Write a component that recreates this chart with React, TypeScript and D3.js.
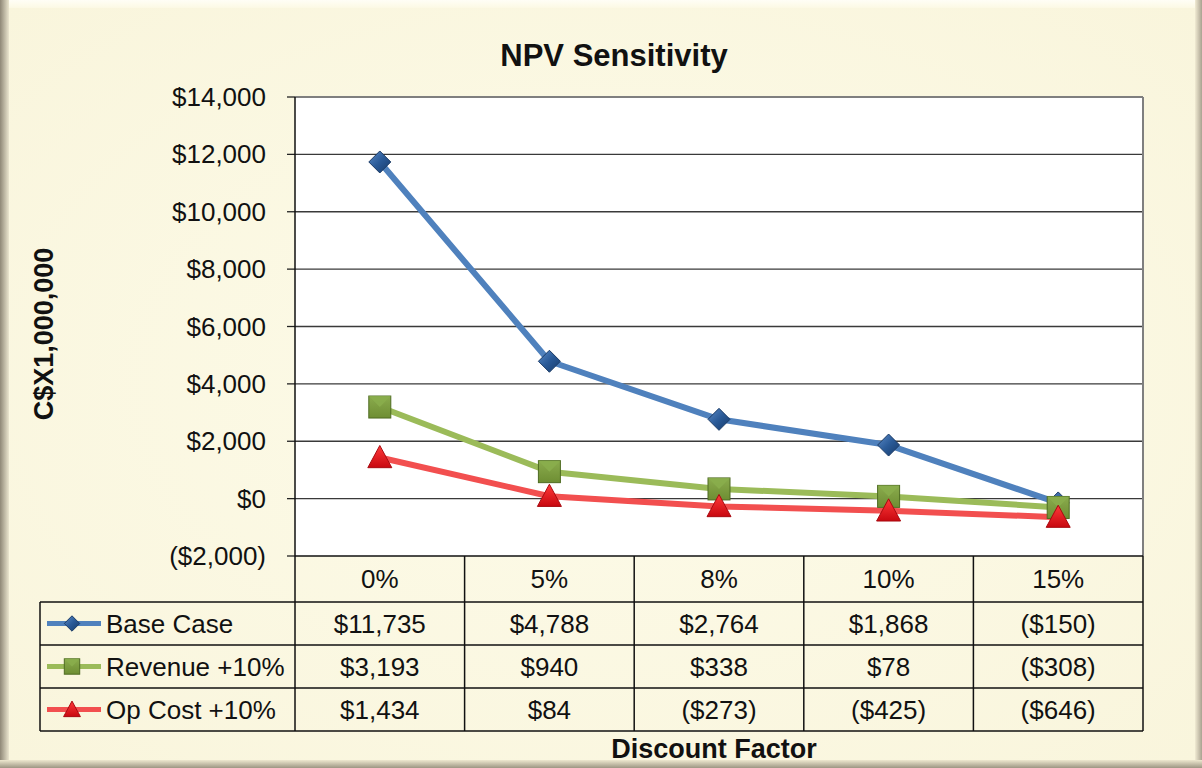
import React from "react";
import * as d3 from "d3";

const categories = ["0%", "5%", "8%", "10%", "15%"];
const seriesNames = ["Base Case", "Revenue +10%", "Op Cost +10%"];
const baseCase = [11735, 4788, 2764, 1868, -150];
const revenue10 = [3193, 940, 338, 78, -308];
const opCost10 = [1434, 84, -273, -425, -646];
const yTicks = [-2000, 0, 2000, 4000, 6000, 8000, 10000, 12000, 14000];

const W = 1202, H = 768;
const plotL = 295, plotR = 1143, plotT = 97, plotB = 556;
const rowTops = [556, 602, 645, 688, 731];
const tableL = 40;
const font = "'Liberation Sans', Arial, sans-serif";

const fmt = (v: number) => {
  const s = "$" + d3.format(",")(Math.abs(v));
  return v < 0 ? `(${s})` : s;
};

const colors = ["#4F81BD", "#9BBB59", "#F24F4F"];
const markerStroke = ["#1B3B66", "#4E6B22", "#A80A10"];

function Marker({ kind, x, y, s = 1 }: { kind: number; x: number; y: number; s?: number }) {
  if (kind === 0) {
    const r = 11 * s;
    return (
      <path d={`M${x},${y - r}L${x + r},${y}L${x},${y + r}L${x - r},${y}Z`} fill="url(#gDia)" stroke={markerStroke[0]} strokeWidth={1} />
    );
  }
  if (kind === 1) {
    const h = 11 * s;
    return (
      <g>
        <rect x={x - h} y={y - h} width={2 * h} height={2 * h} fill="url(#gSq)" stroke={markerStroke[1]} strokeWidth={1} />
        <path d={`M${x - h},${y - h}L${x},${y}L${x + h},${y - h}Z`} fill="#8AAE4C" opacity={0.85} />
      </g>
    );
  }
  const h = 12 * s;
  return (
    <path d={`M${x},${y - h}L${x + h},${y + h * 0.85}L${x - h},${y + h * 0.85}Z`} fill="url(#gTri)" stroke={markerStroke[2]} strokeWidth={1} />
  );
}

export default function App() {
  const x = d3.scaleBand<string>().domain(categories).range([plotL, plotR]);
  const y = d3.scaleLinear().domain([-2000, 14000]).range([plotB, plotT]);
  const series = [baseCase, revenue10, opCost10];
  const cx = (i: number) => (x(categories[i]) as number) + x.bandwidth() / 2;
  const line = d3
    .line<number>()
    .x((_, i) => cx(i))
    .y((d) => y(d));

  return (
    <svg width={W} height={H} style={{ position: "absolute", left: 0, top: 0 }} fontFamily={font}>
      <defs>
        <linearGradient id="bgL" x1="0" x2="1" y1="0" y2="0">
          <stop offset="0" stopColor="#8f8877" />
          <stop offset="1" stopColor="#ebe6cf" />
        </linearGradient>
        <linearGradient id="bgR" x1="0" x2="1" y1="0" y2="0">
          <stop offset="0" stopColor="#f1ebd3" />
          <stop offset="1" stopColor="#a9a290" />
        </linearGradient>
        <linearGradient id="bgB" x1="0" x2="0" y1="0" y2="1">
          <stop offset="0" stopColor="#eee8cf" />
          <stop offset="1" stopColor="#9d9683" />
        </linearGradient>
        <linearGradient id="bgT" x1="0" x2="0" y1="0" y2="1">
          <stop offset="0" stopColor="#fffef6" />
          <stop offset="1" stopColor="#fcf9e4" />
        </linearGradient>
        <radialGradient id="paper" cx="0.5" cy="0.5" r="0.7">
          <stop offset="0" stopColor="#fdfbe9" />
          <stop offset="1" stopColor="#f9f5dc" />
        </radialGradient>
        <linearGradient id="gDia" x1="0" x2="1" y1="0" y2="1">
          <stop offset="0" stopColor="#5a8ac7" />
          <stop offset="0.5" stopColor="#2A5A97" />
          <stop offset="1" stopColor="#163a6a" />
        </linearGradient>
        <linearGradient id="gSq" x1="0" x2="0" y1="0" y2="1">
          <stop offset="0" stopColor="#8aab4d" />
          <stop offset="1" stopColor="#6E8E33" />
        </linearGradient>
        <linearGradient id="gTri" x1="0" x2="0" y1="0" y2="1">
          <stop offset="0" stopColor="#ff3a3a" />
          <stop offset="1" stopColor="#c80810" />
        </linearGradient>
      </defs>

      {/* background */}
      <rect x={0} y={0} width={W} height={H} fill="url(#paper)" />
      <rect x={0} y={0} width={W} height={8} fill="url(#bgT)" />
      <rect x={0} y={0} width={9} height={H} fill="url(#bgL)" />
      <rect x={W - 7} y={0} width={7} height={H} fill="url(#bgR)" />
      <rect x={0} y={H - 8} width={W} height={8} fill="url(#bgB)" />

      {/* title */}
      <text x={614} y={66} textAnchor="middle" fontSize={31} fontWeight="bold" fill="#111">
        NPV Sensitivity
      </text>

      {/* plot area */}
      <rect x={plotL} y={plotT} width={plotR - plotL} height={plotB - plotT} fill="#fff" />
      {yTicks.map((t) => (
        <g key={t}>
          {t > -2000 && t < 14000 && (
            <line x1={plotL} x2={plotR} y1={y(t)} y2={y(t)} stroke="#3a3a3a" strokeWidth={1.3} />
          )}
          <line x1={plotL - 8} x2={plotL} y1={y(t)} y2={y(t)} stroke="#222" strokeWidth={1.3} />
          <text x={266} y={y(t) + 9} textAnchor="end" fontSize={26} fill="#111">
            {fmt(t)}
          </text>
        </g>
      ))}
      <line x1={plotL} x2={plotR} y1={plotT} y2={plotT} stroke="#7f7f7f" strokeWidth={2} />
      <line x1={plotR} x2={plotR} y1={plotT} y2={plotB} stroke="#7f7f7f" strokeWidth={2} />

      {/* series lines */}
      {series.map((s, k) => (
        <path key={k} d={line(s) as string} fill="none" stroke={colors[k]} strokeWidth={6} strokeLinejoin="round" />
      ))}
      {series.map((s, k) =>
        s.map((v, i) => <Marker key={`${k}-${i}`} kind={k} x={cx(i)} y={y(v)} />)
      )}

      {/* y-axis title */}
      <text transform={`translate(53,334) rotate(-90)`} textAnchor="middle" fontSize={27} fontWeight="bold" fill="#111">
        C$X1,000,000
      </text>

      {/* data table */}
      <line x1={plotL} x2={plotR} y1={plotB} y2={plotB} stroke="#111" strokeWidth={1.5} />
      <line x1={plotL} x2={plotL} y1={plotT} y2={rowTops[4]} stroke="#111" strokeWidth={1.5} />
      {categories.map((c, i) => {
        const x0 = x(c) as number;
        return (
          <g key={c}>
            <line x1={x0 + x.bandwidth()} x2={x0 + x.bandwidth()} y1={plotB} y2={rowTops[4]} stroke="#111" strokeWidth={1.5} />
            <text x={cx(i)} y={(rowTops[0] + rowTops[1]) / 2 + 9} textAnchor="middle" fontSize={26} fill="#111">
              {c}
            </text>
          </g>
        );
      })}
      {[1, 2, 3, 4].map((r) => (
        <line key={r} x1={tableL} x2={plotR} y1={rowTops[r]} y2={rowTops[r]} stroke="#111" strokeWidth={1.5} />
      ))}
      <line x1={tableL} x2={tableL} y1={rowTops[1]} y2={rowTops[4]} stroke="#111" strokeWidth={1.5} />
      {seriesNames.map((name, k) => {
        const cy = (rowTops[k + 1] + rowTops[k + 2]) / 2;
        return (
          <g key={name}>
            <line x1={47} x2={101} y1={cy} y2={cy} stroke={colors[k]} strokeWidth={5} />
            <Marker kind={k} x={72} y={cy} s={0.7} />
            <text x={106} y={cy + 9} fontSize={26} fill="#111">
              {name}
            </text>
            {series[k].map((v, i) => (
              <text key={i} x={cx(i)} y={cy + 9} textAnchor="middle" fontSize={26} fill="#111">
                {fmt(v)}
              </text>
            ))}
          </g>
        );
      })}

      {/* x-axis title */}
      <text x={714} y={758} textAnchor="middle" fontSize={27} fontWeight="bold" fill="#111">
        Discount Factor
      </text>
    </svg>
  );
}
